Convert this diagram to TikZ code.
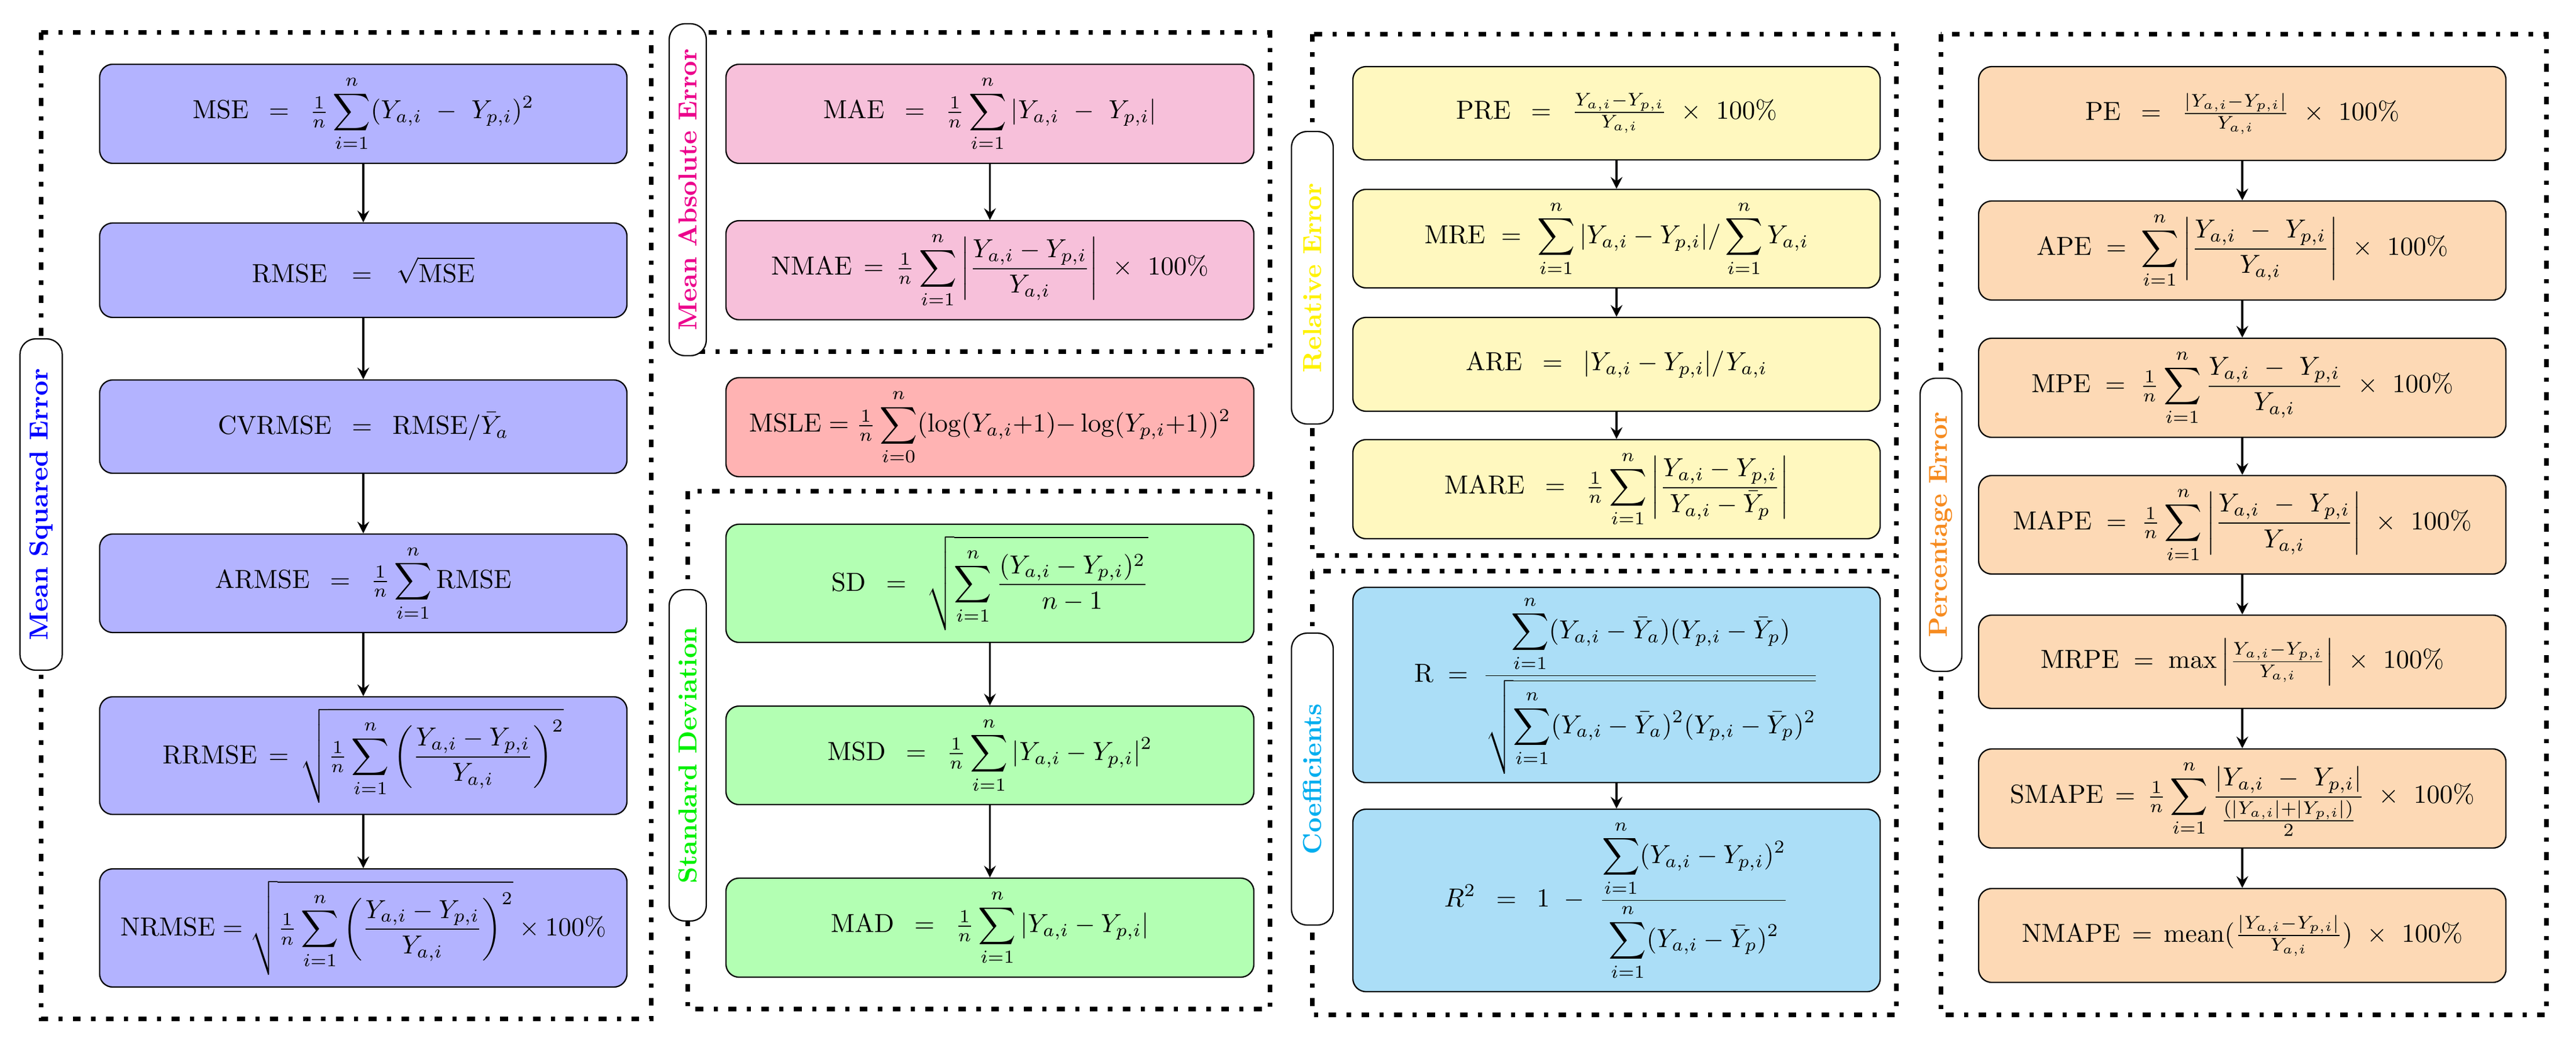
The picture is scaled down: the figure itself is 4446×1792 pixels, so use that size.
\documentclass[tikz,border=0pt]{standalone}
\usepackage{amsmath}
\usetikzlibrary{arrows.meta}
\definecolor{msebox}{HTML}{B3B3FF}
\definecolor{msetitle}{HTML}{0000FF}
\definecolor{maebox}{HTML}{F7C0DA}
\definecolor{maetitle}{HTML}{EC008C}
\definecolor{mslebox}{HTML}{FFB3B3}
\definecolor{sdbox}{HTML}{B3FFB3}
\definecolor{sdtitle}{HTML}{00F000}
\definecolor{relbox}{HTML}{FFF8BF}
\definecolor{reltitle}{HTML}{FFF200}
\definecolor{coefbox}{HTML}{ABDEF7}
\definecolor{coeftitle}{HTML}{00AEEF}
\definecolor{pebox}{HTML}{FDD9B5}
\definecolor{petitle}{HTML}{F68B1F}
\def\pu{0.2222pt}
\begin{document}
\begin{tikzpicture}[x=0.2222pt,y=-0.2222pt,
  eqbox/.style={draw, line width=0.5pt, rounded corners=5pt, minimum width={910*\pu}, inner sep=0pt, align=center},
  grpframe/.style={line width=1.6pt, loosely dash dot},
  grplab/.style={draw, line width=0.5pt, fill=white, rounded corners=6pt, rotate=90, font=\bfseries, inner sep=0pt},
  arr/.style={thick, -{Stealth[length=4.5pt,width=4.5pt,inset=1.6pt]}}]
\useasboundingbox (0,0) rectangle (4446,1792);

% frames
\draw[grpframe] (71,56) rectangle (1124,1759);
\draw[grpframe] (1187,56) rectangle (2192,607);
\draw[grpframe] (1187,848) rectangle (2192,1742);
\draw[grpframe] (2265,59) rectangle (3273,959);
\draw[grpframe] (2265,986) rectangle (3273,1752);
\draw[grpframe] (3350,59) rectangle (4395,1752);

% group labels
\node[grplab, text=msetitle, minimum width={572*\pu}, minimum height={73*\pu}] (lmse) at (71,871) {Mean Squared Error};
\node[grplab, text=maetitle, minimum width={573*\pu}, minimum height={64*\pu}] (lmae) at (1187,327.5) {Mean Absolute Error};
\node[grplab, text=sdtitle, minimum width={572*\pu}, minimum height={64*\pu}] (lsd) at (1187,1304) {Standard Deviation};
\node[grplab, text=reltitle, minimum width={505*\pu}, minimum height={72*\pu}] (lrel) at (2265,479.5) {Relative Error};
\node[grplab, text=coeftitle, minimum width={504*\pu}, minimum height={72*\pu}] (lcoef) at (2265,1345) {Coefficients};
\node[grplab, text=petitle, minimum width={506*\pu}, minimum height={72*\pu}] (lpe) at (3350,906) {Percentage Error};

% column 1
\node[eqbox, fill=msebox, minimum height={171*\pu}] (mse) at (627,196.5)
  {$\displaystyle \mathrm{MSE}\enspace=\enspace\tfrac{1}{n}\sum_{i=1}^{n}(Y_{a,i}~-~Y_{p,i})^2$};
\node[eqbox, fill=msebox, minimum height={163*\pu}] (rmse) at (627,466.5)
  {$\displaystyle \mathrm{RMSE}~~=~~\sqrt{\mathrm{MSE}}$};
\node[eqbox, fill=msebox, minimum height={161*\pu}] (cvrmse) at (627,736.5)
  {$\displaystyle \mathrm{CVRMSE}\enspace=\enspace\mathrm{RMSE}/\bar{Y}_a$};
\node[eqbox, fill=msebox, minimum height={170*\pu}] (armse) at (627,1007)
  {$\displaystyle \mathrm{ARMSE}\enspace=\enspace\tfrac{1}{n}\sum_{i=1}^{n}\mathrm{RMSE}$};
\node[eqbox, fill=msebox, minimum height={203*\pu}] (rrmse) at (627,1304.5)
  {$\displaystyle \mathrm{RRMSE}\,=\,\sqrt{\tfrac{1}{n}\sum_{i=1}^{n}\left(\frac{Y_{a,i}-Y_{p,i}}{Y_{a,i}}\right)^{2}}$};
\node[eqbox, fill=msebox, minimum height={204*\pu}] (nrmse) at (627,1602)
  {$\displaystyle \mathrm{NRMSE}=\sqrt{\tfrac{1}{n}\sum_{i=1}^{n}\left(\frac{Y_{a,i}-Y_{p,i}}{Y_{a,i}}\right)^{2}}\times100\%$};
\draw[arr] (mse) -- (rmse);
\draw[arr] (rmse) -- (cvrmse);
\draw[arr] (cvrmse) -- (armse);
\draw[arr] (armse) -- (rrmse);
\draw[arr] (rrmse) -- (nrmse);

% column 2
\node[eqbox, fill=maebox, minimum width={911*\pu}, minimum height={171*\pu}] (mae) at (1708.5,196.5)
  {$\displaystyle \mathrm{MAE}\enspace=\enspace\tfrac{1}{n}\sum_{i=1}^{n}|Y_{a,i}~-~Y_{p,i}|$};
\node[eqbox, fill=maebox, minimum width={911*\pu}, minimum height={171*\pu}] (nmae) at (1708.5,466.5)
  {$\displaystyle \mathrm{NMAE}\,=\,\tfrac{1}{n}\sum_{i=1}^{n}\left|\frac{Y_{a,i}-Y_{p,i}}{Y_{a,i}}\right|~\times~100\%$};
\node[eqbox, fill=mslebox, minimum width={911*\pu}, minimum height={171*\pu}] (msle) at (1708.5,737.5)
  {$\displaystyle \mathrm{MSLE}=\tfrac{1}{n}\sum_{i=0}^{n}(\log(Y_{a,i}{+}1){-}\log(Y_{p,i}{+}1))^2$};
\node[eqbox, fill=sdbox, minimum width={911*\pu}, minimum height={204*\pu}] (sd) at (1708.5,1007)
  {$\displaystyle \mathrm{SD}\enspace=\enspace\sqrt{\sum_{i=1}^{n}\frac{(Y_{a,i}-Y_{p,i})^2}{n-1}}$};
\node[eqbox, fill=sdbox, minimum width={911*\pu}, minimum height={170*\pu}] (msd) at (1708.5,1304)
  {$\displaystyle \mathrm{MSD}\enspace=\enspace\tfrac{1}{n}\sum_{i=1}^{n}|Y_{a,i}-Y_{p,i}|^2$};
\node[eqbox, fill=sdbox, minimum width={911*\pu}, minimum height={171*\pu}] (mad) at (1708.5,1601.5)
  {$\displaystyle \mathrm{MAD}\enspace=\enspace\tfrac{1}{n}\sum_{i=1}^{n}|Y_{a,i}-Y_{p,i}|$};
\draw[arr] (mae) -- (nmae);
\draw[arr] (sd) -- (msd);
\draw[arr] (msd) -- (mad);

% column 3
\node[eqbox, fill=relbox, minimum height={161*\pu}] (pre) at (2790,195.5)
  {$\displaystyle \mathrm{PRE}\enspace=\enspace\tfrac{Y_{a,i}-Y_{p,i}}{Y_{a,i}}~\times~100\%$};
\node[eqbox, fill=relbox, minimum height={170*\pu}] (mre) at (2790,412)
  {$\displaystyle \mathrm{MRE}~=~\sum_{i=1}^{n}|Y_{a,i}-Y_{p,i}|/\sum_{i=1}^{n}Y_{a,i}$};
\node[eqbox, fill=relbox, minimum height={162*\pu}] (are) at (2790,629)
  {$\displaystyle \mathrm{ARE}\enspace=\enspace|Y_{a,i}-Y_{p,i}|/Y_{a,i}$};
\node[eqbox, fill=relbox, minimum height={171*\pu}] (mare) at (2790,844.5)
  {$\displaystyle \mathrm{MARE}\enspace=\enspace\tfrac{1}{n}\sum_{i=1}^{n}\left|\frac{Y_{a,i}-Y_{p,i}}{Y_{a,i}-\bar{Y}_p}\right|$};
\draw[arr] (pre) -- (mre);
\draw[arr] (mre) -- (are);
\draw[arr] (are) -- (mare);
\node[eqbox, fill=coefbox, minimum height={337*\pu}] (r) at (2790,1182.5)
  {$\displaystyle \mathrm{R}\;=\;\frac{\displaystyle\sum_{i=1}^{n}(Y_{a,i}-\bar{Y}_a)(Y_{p,i}-\bar{Y}_p)}{\sqrt{\displaystyle\sum_{i=1}^{n}(Y_{a,i}-\bar{Y}_a)^2(Y_{p,i}-\bar{Y}_p)^2}}$};
\node[eqbox, fill=coefbox, minimum height={315*\pu}] (r2) at (2790,1554.5)
  {$\displaystyle R^2\enspace=\enspace1~-~\frac{\displaystyle\sum_{i=1}^{n}(Y_{a,i}-Y_{p,i})^2}{\displaystyle\sum_{i=1}^{n}(Y_{a,i}-\bar{Y}_p)^2}$};
\draw[arr] (r) -- (r2);

% column 4
\node[eqbox, fill=pebox, minimum height={162*\pu}] (pe) at (3870,196)
  {$\displaystyle \mathrm{PE}\enspace=\enspace\tfrac{|Y_{a,i}-Y_{p,i}|}{Y_{a,i}}~\times~100\%$};
\node[eqbox, fill=pebox, minimum height={171*\pu}] (ape) at (3870,432.5)
  {$\displaystyle \mathrm{APE}\;=\;\sum_{i=1}^{n}\left|\frac{Y_{a,i}~-~Y_{p,i}}{Y_{a,i}}\right|~\times~100\%$};
\node[eqbox, fill=pebox, minimum height={171*\pu}] (mpe) at (3870,669.5)
  {$\displaystyle \mathrm{MPE}\;=\;\tfrac{1}{n}\sum_{i=1}^{n}\frac{Y_{a,i}~-~Y_{p,i}}{Y_{a,i}}~\times~100\%$};
\node[eqbox, fill=pebox, minimum height={170*\pu}] (mape) at (3870,906)
  {$\displaystyle \mathrm{MAPE}\;=\;\tfrac{1}{n}\sum_{i=1}^{n}\left|\frac{Y_{a,i}~-~Y_{p,i}}{Y_{a,i}}\right|~\times~100\%$};
\node[eqbox, fill=pebox, minimum height={161*\pu}] (mrpe) at (3870,1142.5)
  {$\displaystyle \mathrm{MRPE}\;=\;\max\left|\tfrac{Y_{a,i}-Y_{p,i}}{Y_{a,i}}\right|~\times~100\%$};
\node[eqbox, fill=pebox, minimum height={171*\pu}] (smape) at (3870,1378.5)
  {$\displaystyle \mathrm{SMAPE}\,=\,\tfrac{1}{n}\sum_{i=1}^{n}\frac{|Y_{a,i}~-~Y_{p,i}|}{\frac{(|Y_{a,i}|+|Y_{p,i}|)}{2}}~\times~100\%$};
\node[eqbox, fill=pebox, minimum height={162*\pu}] (nmape) at (3870,1615)
  {$\displaystyle \mathrm{NMAPE}\,=\,\mathrm{mean}(\tfrac{|Y_{a,i}-Y_{p,i}|}{Y_{a,i}})~\times~100\%$};
\draw[arr] (pe) -- (ape);
\draw[arr] (ape) -- (mpe);
\draw[arr] (mpe) -- (mape);
\draw[arr] (mape) -- (mrpe);
\draw[arr] (mrpe) -- (smape);
\draw[arr] (smape) -- (nmape);
\end{tikzpicture}
\end{document}
